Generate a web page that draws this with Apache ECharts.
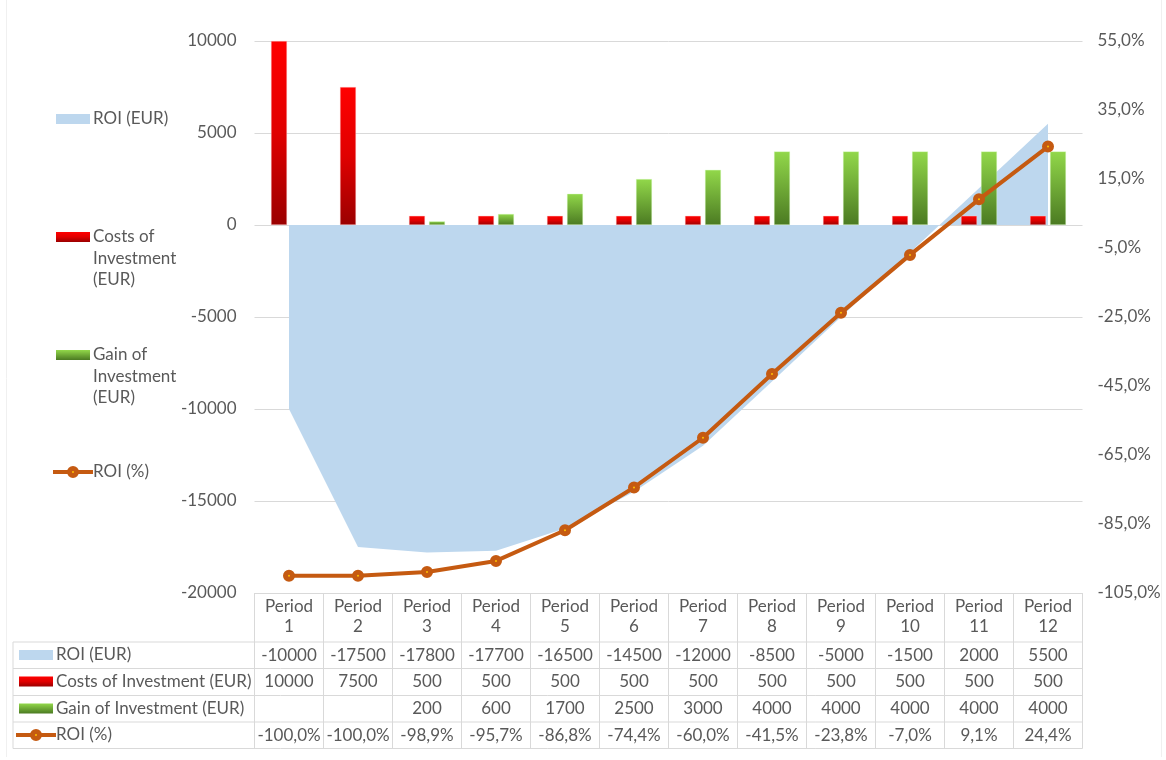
<!DOCTYPE html>
<html>
<head>
<meta charset="utf-8">
<script src="https://cdn.jsdelivr.net/npm/echarts@6/dist/echarts.min.js"></script>
<style>html,body{margin:0;padding:0;background:#fff;}#c{width:1166px;height:760px;}</style>
</head>
<body>
<div id="c"></div>
<script>
const categories = ['Period 1','Period 2','Period 3','Period 4','Period 5','Period 6','Period 7','Period 8','Period 9','Period 10','Period 11','Period 12'];
const roiEur = [-10000,-17500,-17800,-17700,-16500,-14500,-12000,-8500,-5000,-1500,2000,5500];
const costs = [10000,7500,500,500,500,500,500,500,500,500,500,500];
const gain = [null,null,200,600,1700,2500,3000,4000,4000,4000,4000,4000];
const roiPct = [-100.0,-100.0,-98.9,-95.7,-86.8,-74.4,-60.0,-41.5,-23.8,-7.0,9.1,24.4];
const seriesNames = ['ROI (EUR)','Costs of Investment (EUR)','Gain of Investment (EUR)','ROI (%)'];

const PCT_SHIFT = 105; // right axis runs -105%..55%
const FONT = 'Lato';
const TXT = '#595959';
const GRIDC = '#d9d9d9';
const FS = 17;

const pctFmt = v => v.toFixed(1).replace('.', ',') + '%';

const redGrad = new echarts.graphic.LinearGradient(0,0,0,1,[{offset:0,color:'#ff0000'},{offset:0.5,color:'#e00000'},{offset:1,color:'#9a0000'}]);
const greenGrad = new echarts.graphic.LinearGradient(0,0,0,1,[{offset:0,color:'#92d84a'},{offset:1,color:'#4b7a22'}]);
const blue = '#bdd7ee';
const orange = '#c55a11';

function rowAxis(data, offset) {
  return {
    type:'category', data:data, position:'bottom', offset:offset, gridIndex:0,
    axisLine:{show:false, onZero:false}, axisTick:{show:false}, splitLine:{show:false},
    axisLabel:{interval:0, margin:0, fontFamily:FONT, fontSize:FS, color:TXT, lineHeight:18}
  };
}

const chart = echarts.init(document.getElementById('c'), null, {renderer:'canvas'});

const tableRows = [
  {y:655, name:seriesNames[0], icon:'rect', fill:blue},
  {y:681.5, name:seriesNames[1], icon:'rect', fill:redGrad},
  {y:708.5, name:seriesNames[2], icon:'rect', fill:greenGrad},
  {y:735, name:seriesNames[3], icon:'line'}
];

const graphics = [];
[642, 668.5, 695.5, 722, 748.5].forEach(y => {
  graphics.push({type:'line', shape:{x1:13, y1:y, x2:1082.5, y2:y}, style:{stroke:GRIDC, lineWidth:1}, silent:true});
});
graphics.push({type:'line', shape:{x1:13, y1:642, x2:13, y2:748.5}, style:{stroke:GRIDC, lineWidth:1}, silent:true});
graphics.push({type:'line', shape:{x1:6.5, y1:0, x2:6.5, y2:757}, style:{stroke:'#f0f0f0', lineWidth:1}, silent:true});
graphics.push({type:'line', shape:{x1:1161.5, y1:0, x2:1161.5, y2:757}, style:{stroke:'#f0f0f0', lineWidth:1}, silent:true});

function iconGraphic(kind, fill, x, y, w) {
  if (kind === 'rect') {
    return [{type:'rect', shape:{x:x, y:y-5, width:w, height:10}, style:{fill:fill}, silent:true}];
  }
  return [
    {type:'line', shape:{x1:x-3, y1:y, x2:x+w+3, y2:y}, style:{stroke:orange, lineWidth:4}, silent:true},
    {type:'circle', shape:{cx:x+w/2, cy:y, r:3.5}, style:{fill:'#ffc000', stroke:orange, lineWidth:5}, silent:true}
  ];
}

tableRows.forEach(r => {
  iconGraphic(r.icon, r.fill, 19, r.y, 34).forEach(g => graphics.push(g));
  graphics.push({type:'text', x:56, y:r.y, style:{text:r.name, fill:TXT, font:FS+'px '+FONT, verticalAlign:'middle', align:'left'}, silent:true});
});

const legendItems = [
  {y:119, text:'ROI (EUR)', icon:'rect', fill:blue},
  {y:237, text:'Costs of\nInvestment\n(EUR)', icon:'rect', fill:redGrad},
  {y:355, text:'Gain of\nInvestment\n(EUR)', icon:'rect', fill:greenGrad},
  {y:472, text:'ROI (%)', icon:'line'}
];
legendItems.forEach(l => {
  iconGraphic(l.icon, l.fill, 56, l.y, 34).forEach(g => graphics.push(g));
  graphics.push({type:'text', x:93, y:l.y - 11, style:{text:l.text, fill:TXT, font:FS+'px '+FONT, lineHeight:21.5, verticalAlign:'top', align:'left'}, silent:true});
});

const option = {
  backgroundColor:'#ffffff',
  animation:false,
  textStyle:{fontFamily:FONT},
  grid:{left:254.5, right:83.5, top:41, bottom:167, containLabel:false},
  xAxis:[
    {
      type:'category', data:categories, position:'bottom', boundaryGap:true,
      axisLine:{show:true, onZero:false, lineStyle:{color:GRIDC, width:1}},
      axisTick:{show:true, inside:false, length:155.5, lineStyle:{color:GRIDC, width:1}},
      axisLabel:{interval:0, margin:4, fontFamily:FONT, fontSize:FS, color:TXT, lineHeight:20,
        formatter: v => v.replace(' ', '\n')}
    },
    rowAxis(roiEur.map(String), 53.5),
    rowAxis(costs.map(String), 80),
    rowAxis(gain.map(v => v == null ? '' : String(v)), 107),
    rowAxis(roiPct.map(pctFmt), 133.5)
  ],
  yAxis:[
    {
      type:'value', min:-20000, max:10000, interval:5000, position:'left',
      axisLine:{show:false}, axisTick:{show:false},
      splitLine:{show:true, lineStyle:{color:GRIDC, width:1}},
      axisLabel:{margin:18, fontFamily:FONT, fontSize:FS, color:TXT, formatter: v => String(v)}
    },
    {
      type:'value', min:0, max:160, interval:20, position:'right',
      axisLine:{show:false}, axisTick:{show:false}, splitLine:{show:false},
      axisLabel:{margin:15, fontFamily:FONT, fontSize:FS, color:TXT, formatter: v => pctFmt(v - PCT_SHIFT)}
    }
  ],
  series:[
    {
      name:seriesNames[0], type:'line', data:roiEur, xAxisIndex:0, yAxisIndex:0,
      showSymbol:false, symbol:'none', lineStyle:{width:0, color:blue},
      areaStyle:{color:blue, opacity:1}, itemStyle:{color:blue}, z:1
    },
    {
      name:seriesNames[1], type:'bar', data:costs, xAxisIndex:0, yAxisIndex:0,
      barWidth:16, barGap:'25%',
      itemStyle:{color:redGrad, borderColor:'rgba(255,200,200,0.8)', borderWidth:0.5}, z:2
    },
    {
      name:seriesNames[2], type:'bar', data:gain, xAxisIndex:0, yAxisIndex:0,
      barWidth:16, barGap:'25%',
      itemStyle:{color:greenGrad, borderColor:'rgba(220,255,200,0.8)', borderWidth:0.5}, z:2
    },
    {
      name:seriesNames[3], type:'line', data:roiPct.map(v => v + PCT_SHIFT), xAxisIndex:0, yAxisIndex:1,
      symbol:'circle', symbolSize:7, showSymbol:true,
      lineStyle:{color:orange, width:4},
      itemStyle:{color:'#ffc000', borderColor:orange, borderWidth:5}, z:5
    }
  ],
  graphic:graphics
};
chart.setOption(option);
</script>
</body>
</html>
